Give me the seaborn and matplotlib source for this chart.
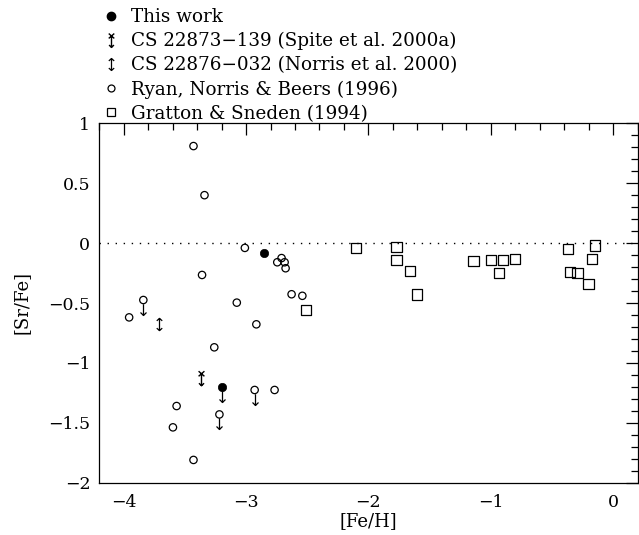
import numpy as np
import pandas as pd
import matplotlib
matplotlib.use("Agg")
import matplotlib.pyplot as plt
from matplotlib.path import Path
from matplotlib.lines import Line2D
from matplotlib.ticker import MultipleLocator, FuncFormatter
import seaborn as sns

# ---------------- data ----------------
this_feh = [-2.85, -3.20]
this_srfe = [-0.08, -1.20]
this_limit = [False, True]

spite_feh = [-3.37]
spite_srfe = [-1.13]

norris_feh = [-3.71]
norris_srfe = [-0.675]

ryan_feh = [-3.43, -3.34, -3.01, -2.745, -2.71, -2.685, -2.677, -3.36, -3.076,
            -2.628, -2.54, -3.956, -3.84, -2.916, -3.26, -2.93, -2.767, -3.568,
            -3.598, -3.218, -3.43]
ryan_srfe = [0.81, 0.40, -0.04, -0.16, -0.125, -0.16, -0.21, -0.266, -0.497,
             -0.427, -0.44, -0.62, -0.475, -0.678, -0.87, -1.226, -1.226, -1.36,
             -1.538, -1.43, -1.81]
ryan_limit = [False, False, False, False, False, False, False, False, False,
              False, False, False, True, False, False, True, False, False,
              False, True, False]

gs_feh = [-2.51, -2.10, -1.77, -1.77, -1.66, -1.60, -1.14, -1.00, -0.90, -0.93,
          -0.80, -0.37, -0.35, -0.29, -0.20, -0.17, -0.15]
gs_srfe = [-0.558, -0.04, -0.03, -0.14, -0.23, -0.43, -0.15, -0.14, -0.14, -0.25,
           -0.13, -0.05, -0.24, -0.25, -0.34, -0.13, -0.02]

legend_labels = ["This work",
                 "CS 22873\u2212139 (Spite et al. 2000a)",
                 "CS 22876\u2212032 (Norris et al. 2000)",
                 "Ryan, Norris & Beers (1996)",
                 "Gratton & Sneden (1994)"]

x_ticks = [-4, -3, -2, -1, 0]
y_ticks = [1, 0.5, 0, -0.5, -1, -1.5, -2]

# ---------------- marker paths ----------------
M, L = Path.MOVETO, Path.LINETO
down_arrow = Path([(0, -0.25), (0, -1), (-0.2, -0.8), (0, -1), (0.2, -0.8)],
                  [M, L, M, L, L])
double_arrow = Path([(0, 1), (0, -1),
                     (-0.45, 0.6), (0, 1), (0.45, 0.6),
                     (-0.45, -0.6), (0, -1), (0.45, -0.6)],
                    [M, L, M, L, L, M, L, L])
x_double_arrow = Path([(0, 0.75), (0, -1),
                       (-0.35, -0.65), (0, -1), (0.35, -0.65),
                       (-0.4, 1.0), (0.4, 0.3),
                       (-0.4, 0.3), (0.4, 1.0)],
                      [M, L, M, L, L, M, L, M, L])

# ---------------- figure ----------------
sns.set_style("white")
plt.rcParams["font.family"] = ["DejaVu Serif"]
plt.rcParams["axes.unicode_minus"] = True
for k in ["text.color", "axes.labelcolor", "xtick.color", "ytick.color", "axes.edgecolor"]:
    plt.rcParams[k] = "black"

fig = plt.figure(figsize=(6.39, 5.35), dpi=100)
ax = fig.add_axes([99.3 / 639, 1 - 482.7 / 535, (637.5 - 99.3) / 639, (482.7 - 123.3) / 535])

ax.axhline(0, color="black", lw=1.0, dashes=(1.0, 4.8))

gs_df = pd.DataFrame({"feh": gs_feh, "srfe": gs_srfe})
ryan_df = pd.DataFrame({"feh": ryan_feh, "srfe": ryan_srfe, "lim": ryan_limit})
this_df = pd.DataFrame({"feh": this_feh, "srfe": this_srfe, "lim": this_limit})

sns.scatterplot(data=gs_df, x="feh", y="srfe", marker="s", s=55,
                facecolor="none", edgecolor="black", linewidth=0.9, ax=ax, legend=False)
sns.scatterplot(data=ryan_df, x="feh", y="srfe", marker="o", s=28,
                facecolor="none", edgecolor="black", linewidth=0.9, ax=ax, legend=False)
sns.scatterplot(data=this_df, x="feh", y="srfe", marker="o", s=36,
                color="black", edgecolor="black", linewidth=0.5, ax=ax, legend=False)

lim_r = ryan_df[ryan_df["lim"]]
ax.plot(lim_r["feh"], lim_r["srfe"], ls="none", marker=down_arrow, ms=21.6,
        mfc="none", mec="black", mew=0.9)
lim_t = this_df[this_df["lim"]]
ax.plot(lim_t["feh"], lim_t["srfe"], ls="none", marker=down_arrow, ms=21.6,
        mfc="none", mec="black", mew=0.9)
ax.plot(norris_feh, norris_srfe, ls="none", marker=double_arrow, ms=8.8,
        mfc="none", mec="black", mew=0.9)
ax.plot(spite_feh, spite_srfe, ls="none", marker=x_double_arrow, ms=10.5,
        mfc="none", mec="black", mew=1.0)

ax.set_xlim(-4.2, 0.2)
ax.set_ylim(-2, 1)
ax.set_xticks(x_ticks)
ax.set_yticks(y_ticks)
ax.xaxis.set_minor_locator(MultipleLocator(0.2))
ax.yaxis.set_minor_locator(MultipleLocator(0.1))
fmt = FuncFormatter(lambda v, p: ("{:g}".format(v)).replace("-", "\u2212"))
ax.xaxis.set_major_formatter(fmt)
ax.yaxis.set_major_formatter(fmt)
ax.tick_params(which="both", direction="in", top=True, right=True, color="black",
               width=0.9, labelsize=12.5, labelcolor="black")
ax.tick_params(which="major", length=8.5)
ax.tick_params(which="minor", length=5)
ax.tick_params(axis="x", which="major", pad=8)
ax.tick_params(axis="y", which="major", pad=6.5)
for s in ax.spines.values():
    s.set_visible(True)
    s.set_color("black")
    s.set_linewidth(0.9)

ax.set_xlabel("[Fe/H]", fontsize=13, labelpad=1, color="black")
ax.set_ylabel("[Sr/Fe]", fontsize=13, labelpad=13, color="black")

handles = [
    Line2D([], [], ls="none", marker="o", ms=6, mfc="black", mec="black"),
    Line2D([], [], ls="none", marker=x_double_arrow, ms=10, mfc="none", mec="black", mew=1.0),
    Line2D([], [], ls="none", marker=double_arrow, ms=8.6, mfc="none", mec="black", mew=0.9),
    Line2D([], [], ls="none", marker="o", ms=5, mfc="none", mec="black", mew=0.9),
    Line2D([], [], ls="none", marker="s", ms=5.5, mfc="none", mec="black", mew=0.9),
]
leg = fig.legend(handles, legend_labels, loc="upper left",
                 bbox_to_anchor=(101.7 / 639, 1 - 8 / 535), frameon=False,
                 fontsize=13.2, handlelength=1.0, handletextpad=0.62,
                 labelspacing=0.33, borderpad=0, borderaxespad=0)
for t in leg.get_texts():
    t.set_color("black")

fig.savefig("out.png", dpi=100)
